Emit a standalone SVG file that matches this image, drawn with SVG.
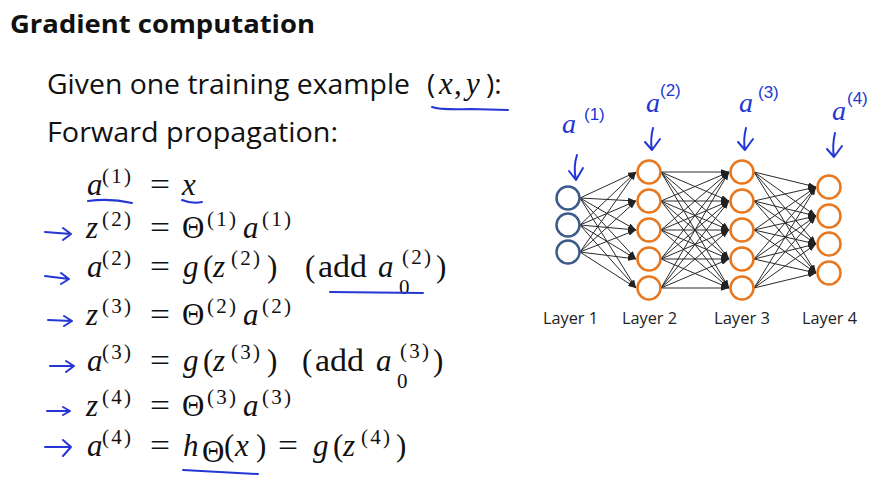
<svg xmlns="http://www.w3.org/2000/svg" width="895" height="502" viewBox="0 0 895 502">
<defs>
<marker id="ah" viewBox="0 0 10 7" refX="10" refY="3.5" markerWidth="8" markerHeight="5.6" markerUnits="userSpaceOnUse" orient="auto">
<path d="M0,0 L10,3.5 L0,7 z" fill="#222"/>
</marker>
</defs>
<style>
.sans{font-family:"Open Sans","Liberation Sans",sans-serif;fill:#111}
.title{font-family:"Open Sans","Liberation Sans",sans-serif;font-weight:bold;font-size:25px;fill:#111}
.m{font-family:'Liberation Serif','Times New Roman',Times,'DejaVu Serif',serif;font-style:italic;font-size:31px;fill:#111}
.r{font-family:'Liberation Serif','Times New Roman',Times,'DejaVu Serif',serif;font-size:31px;fill:#111}
.s{font-family:'Liberation Serif','Times New Roman',Times,'DejaVu Serif',serif;font-size:21px;fill:#111}
.hand{fill:none;stroke:#2436d4;stroke-width:2;stroke-linecap:round;stroke-linejoin:round}
.ht{font-family:'Liberation Serif','Times New Roman',Times,serif;font-style:italic;fill:#2436d4}
.hs{font-family:"Liberation Sans",sans-serif;fill:#2436d4}
.e{stroke:#2a2a2a;stroke-width:1;marker-end:url(#ah)}
.in{fill:#fff;stroke:#3c5b8a;stroke-width:2.5}
.hid{fill:#fff;stroke:#e8771e;stroke-width:2.5}
.lbl{font-family:"Open Sans","Liberation Sans",sans-serif;font-size:16px;fill:#222}
</style>
<rect width="895" height="502" fill="#fff"/>

<text class="title" x="10" y="33" textLength="305" lengthAdjust="spacingAndGlyphs">Gradient computation</text>

<g id="given">
<text class="sans" x="47" y="94" font-size="28" textLength="363" lengthAdjust="spacingAndGlyphs">Given one training example</text>
<text class="sans" x="427" y="94" font-size="28">(</text>
<text class="m" x="439" y="94">x</text>
<text class="r" x="454" y="94">,</text>
<text class="m" x="466" y="94">y</text>
<text class="sans" x="486" y="94" font-size="28">):</text>
</g>
<text class="sans" x="47" y="142" font-size="28" textLength="291" lengthAdjust="spacingAndGlyphs">Forward propagation:</text>

<g id="eq1">
<text class="m" x="87" y="195">a</text><text class="s" x="102" y="183" textLength="29">(1)</text>
<text class="r" x="150" y="195" textLength="20" lengthAdjust="spacingAndGlyphs">=</text>
<text class="m" x="182" y="195">x</text>
</g>
<g id="eq2">
<text class="m" x="86" y="238">z</text><text class="s" x="102" y="226" textLength="29">(2)</text>
<text class="r" x="150" y="238" textLength="20" lengthAdjust="spacingAndGlyphs">=</text>
<text class="r" x="182" y="238">Θ</text><text class="s" x="207" y="226" textLength="29">(1)</text>
<text class="m" x="243" y="238">a</text><text class="s" x="262" y="226" textLength="29">(1)</text>
</g>
<g id="eq3">
<text class="m" x="87" y="277">a</text><text class="s" x="102" y="265" textLength="29">(2)</text>
<text class="r" x="150" y="277" textLength="20" lengthAdjust="spacingAndGlyphs">=</text>
<text class="m" x="183" y="277">g</text><text class="r" x="203" y="277">(</text><text class="m" x="213" y="277">z</text><text class="s" x="231" y="265" textLength="29">(2)</text><text class="r" x="267" y="277">)</text>
<text class="r" x="305" y="277">(</text><text class="r" x="318" y="277" textLength="49" lengthAdjust="spacingAndGlyphs">add</text>
<text class="m" x="378" y="277">a</text><text class="s" x="399" y="294">0</text><text class="s" x="402" y="264" textLength="29">(2)</text><text class="r" x="436" y="277">)</text>
</g>
<g id="eq4">
<text class="m" x="86" y="325">z</text><text class="s" x="102" y="313" textLength="29">(3)</text>
<text class="r" x="150" y="325" textLength="20" lengthAdjust="spacingAndGlyphs">=</text>
<text class="r" x="182" y="325">Θ</text><text class="s" x="207" y="313" textLength="29">(2)</text>
<text class="m" x="243" y="325">a</text><text class="s" x="262" y="313" textLength="29">(2)</text>
</g>
<g id="eq5">
<text class="m" x="87" y="371">a</text><text class="s" x="102" y="359" textLength="29">(3)</text>
<text class="r" x="150" y="371" textLength="20" lengthAdjust="spacingAndGlyphs">=</text>
<text class="m" x="183" y="371">g</text><text class="r" x="203" y="371">(</text><text class="m" x="213" y="371">z</text><text class="s" x="231" y="359" textLength="29">(3)</text><text class="r" x="267" y="371">)</text>
<text class="r" x="302" y="371">(</text><text class="r" x="315" y="371" textLength="49" lengthAdjust="spacingAndGlyphs">add</text>
<text class="m" x="376" y="371">a</text><text class="s" x="397" y="388">0</text><text class="s" x="400" y="358" textLength="29">(3)</text><text class="r" x="433" y="371">)</text>
</g>
<g id="eq6">
<text class="m" x="86" y="416">z</text><text class="s" x="102" y="404" textLength="29">(4)</text>
<text class="r" x="150" y="416" textLength="20" lengthAdjust="spacingAndGlyphs">=</text>
<text class="r" x="182" y="416">Θ</text><text class="s" x="207" y="404" textLength="29">(3)</text>
<text class="m" x="243" y="416">a</text><text class="s" x="262" y="404" textLength="29">(3)</text>
</g>
<g id="eq7">
<text class="m" x="87" y="456">a</text><text class="s" x="102" y="444" textLength="29">(4)</text>
<text class="r" x="150" y="456" textLength="20" lengthAdjust="spacingAndGlyphs">=</text>
<text class="m" x="183" y="456">h</text><text class="r" x="202" y="462" font-size="18">Θ</text>
<text class="r" x="224" y="456">(</text><text class="m" x="235" y="456">x</text><text class="r" x="256" y="456">)</text>
<text class="r" x="278" y="456" textLength="20" lengthAdjust="spacingAndGlyphs">=</text>
<text class="m" x="313" y="456">g</text><text class="r" x="333" y="456">(</text><text class="m" x="343" y="456">z</text><text class="s" x="361" y="444" textLength="29">(4)</text><text class="r" x="396" y="456">)</text>
</g>

<g id="annotations">
<path class="hand" d="M432,107 Q440,110 470,109 L508,110"/>
<path class="hand" d="M88,201 Q110,198 132,203"/>
<path class="hand" d="M182,200 Q192,204 202,202"/>
<path class="hand" d="M330,292 L423,293"/>
<path class="hand" d="M183,470 Q220,472 258,474"/>
<path class="hand" d="M45,232 L71,234 M63,228 L71,234 L63,240"/>
<path class="hand" d="M45,276 L69,279 M61,273 L69,279 L61,284"/>
<path class="hand" d="M48,320 L72,321 M64,316 L72,321 L64,326"/>
<path class="hand" d="M50,366 L74,366 M66,361 L74,366 L66,372"/>
<path class="hand" d="M47,411 L70,411 M63,407 L70,411 L63,415"/>
<path class="hand" d="M45,447 L71,447 M63,440 L71,447 L63,456"/>
</g>

<g id="net-labels">
<text class="ht" x="562" y="133" font-size="28">a</text><text class="hs" x="584" y="120" font-size="17">(1)</text>
<path class="hand" d="M577,155 Q573,167 576,180 M569,171 L576,180 L583,168"/>
<text class="ht" x="646" y="112" font-size="28">a</text><text class="hs" x="660" y="96" font-size="17">(2)</text>
<path class="hand" d="M653,128 Q650,140 652,150 M645,142 L652,150 L660,139"/>
<text class="ht" x="739" y="112" font-size="28">a</text><text class="hs" x="758" y="98" font-size="17">(3)</text>
<path class="hand" d="M746,128 Q743,140 745,150 M738,142 L745,150 L753,139"/>
<text class="ht" x="832" y="120" font-size="28">a</text><text class="hs" x="847" y="104" font-size="17">(4)</text>
<path class="hand" d="M835,133 Q832,146 834,157 M827,149 L834,157 L842,146"/>
</g>

<g id="connectors">
<line class="e" x1="580" y1="198" x2="636" y2="172"/>
<line class="e" x1="580" y1="198" x2="636" y2="201"/>
<line class="e" x1="580" y1="198" x2="636" y2="230"/>
<line class="e" x1="580" y1="198" x2="636" y2="259"/>
<line class="e" x1="580" y1="198" x2="636" y2="288"/>
<line class="e" x1="580" y1="225" x2="636" y2="172"/>
<line class="e" x1="580" y1="225" x2="636" y2="201"/>
<line class="e" x1="580" y1="225" x2="636" y2="230"/>
<line class="e" x1="580" y1="225" x2="636" y2="259"/>
<line class="e" x1="580" y1="225" x2="636" y2="288"/>
<line class="e" x1="580" y1="252" x2="636" y2="172"/>
<line class="e" x1="580" y1="252" x2="636" y2="201"/>
<line class="e" x1="580" y1="252" x2="636" y2="230"/>
<line class="e" x1="580" y1="252" x2="636" y2="259"/>
<line class="e" x1="580" y1="252" x2="636" y2="288"/>

<line class="e" x1="661" y1="172" x2="729" y2="172"/>
<line class="e" x1="661" y1="172" x2="729" y2="201"/>
<line class="e" x1="661" y1="172" x2="729" y2="230"/>
<line class="e" x1="661" y1="172" x2="729" y2="259"/>
<line class="e" x1="661" y1="172" x2="729" y2="288"/>
<line class="e" x1="661" y1="201" x2="729" y2="172"/>
<line class="e" x1="661" y1="201" x2="729" y2="201"/>
<line class="e" x1="661" y1="201" x2="729" y2="230"/>
<line class="e" x1="661" y1="201" x2="729" y2="259"/>
<line class="e" x1="661" y1="201" x2="729" y2="288"/>
<line class="e" x1="661" y1="230" x2="729" y2="172"/>
<line class="e" x1="661" y1="230" x2="729" y2="201"/>
<line class="e" x1="661" y1="230" x2="729" y2="230"/>
<line class="e" x1="661" y1="230" x2="729" y2="259"/>
<line class="e" x1="661" y1="230" x2="729" y2="288"/>
<line class="e" x1="661" y1="259" x2="729" y2="172"/>
<line class="e" x1="661" y1="259" x2="729" y2="201"/>
<line class="e" x1="661" y1="259" x2="729" y2="230"/>
<line class="e" x1="661" y1="259" x2="729" y2="259"/>
<line class="e" x1="661" y1="259" x2="729" y2="288"/>
<line class="e" x1="661" y1="288" x2="729" y2="172"/>
<line class="e" x1="661" y1="288" x2="729" y2="201"/>
<line class="e" x1="661" y1="288" x2="729" y2="230"/>
<line class="e" x1="661" y1="288" x2="729" y2="259"/>
<line class="e" x1="661" y1="288" x2="729" y2="288"/>

<line class="e" x1="754" y1="172" x2="816" y2="187"/>
<line class="e" x1="754" y1="172" x2="816" y2="216"/>
<line class="e" x1="754" y1="172" x2="816" y2="244"/>
<line class="e" x1="754" y1="172" x2="816" y2="273"/>
<line class="e" x1="754" y1="201" x2="816" y2="187"/>
<line class="e" x1="754" y1="201" x2="816" y2="216"/>
<line class="e" x1="754" y1="201" x2="816" y2="244"/>
<line class="e" x1="754" y1="201" x2="816" y2="273"/>
<line class="e" x1="754" y1="230" x2="816" y2="187"/>
<line class="e" x1="754" y1="230" x2="816" y2="216"/>
<line class="e" x1="754" y1="230" x2="816" y2="244"/>
<line class="e" x1="754" y1="230" x2="816" y2="273"/>
<line class="e" x1="754" y1="259" x2="816" y2="187"/>
<line class="e" x1="754" y1="259" x2="816" y2="216"/>
<line class="e" x1="754" y1="259" x2="816" y2="244"/>
<line class="e" x1="754" y1="259" x2="816" y2="273"/>
<line class="e" x1="754" y1="288" x2="816" y2="187"/>
<line class="e" x1="754" y1="288" x2="816" y2="216"/>
<line class="e" x1="754" y1="288" x2="816" y2="244"/>
<line class="e" x1="754" y1="288" x2="816" y2="273"/>
</g>

<g id="layer1">
<circle class="in" cx="568" cy="198" r="11.5"/>
<circle class="in" cx="568" cy="225" r="11.5"/>
<circle class="in" cx="568" cy="252" r="11.5"/>
<text class="lbl" x="543" y="324" textLength="55" lengthAdjust="spacingAndGlyphs">Layer 1</text>
</g>
<g id="layer2">
<circle class="hid" cx="649" cy="172" r="11.5"/>
<circle class="hid" cx="649" cy="201" r="11.5"/>
<circle class="hid" cx="649" cy="230" r="11.5"/>
<circle class="hid" cx="649" cy="259" r="11.5"/>
<circle class="hid" cx="649" cy="288" r="11.5"/>
<text class="lbl" x="622" y="324" textLength="55" lengthAdjust="spacingAndGlyphs">Layer 2</text>
</g>
<g id="layer3">
<circle class="hid" cx="742" cy="172" r="11.5"/>
<circle class="hid" cx="742" cy="201" r="11.5"/>
<circle class="hid" cx="742" cy="230" r="11.5"/>
<circle class="hid" cx="742" cy="259" r="11.5"/>
<circle class="hid" cx="742" cy="288" r="11.5"/>
<text class="lbl" x="714" y="324" textLength="56" lengthAdjust="spacingAndGlyphs">Layer 3</text>
</g>
<g id="layer4">
<circle class="hid" cx="829" cy="187" r="11.5"/>
<circle class="hid" cx="829" cy="216" r="11.5"/>
<circle class="hid" cx="829" cy="244" r="11.5"/>
<circle class="hid" cx="829" cy="273" r="11.5"/>
<text class="lbl" x="802" y="324" textLength="55" lengthAdjust="spacingAndGlyphs">Layer 4</text>
</g>
</svg>
